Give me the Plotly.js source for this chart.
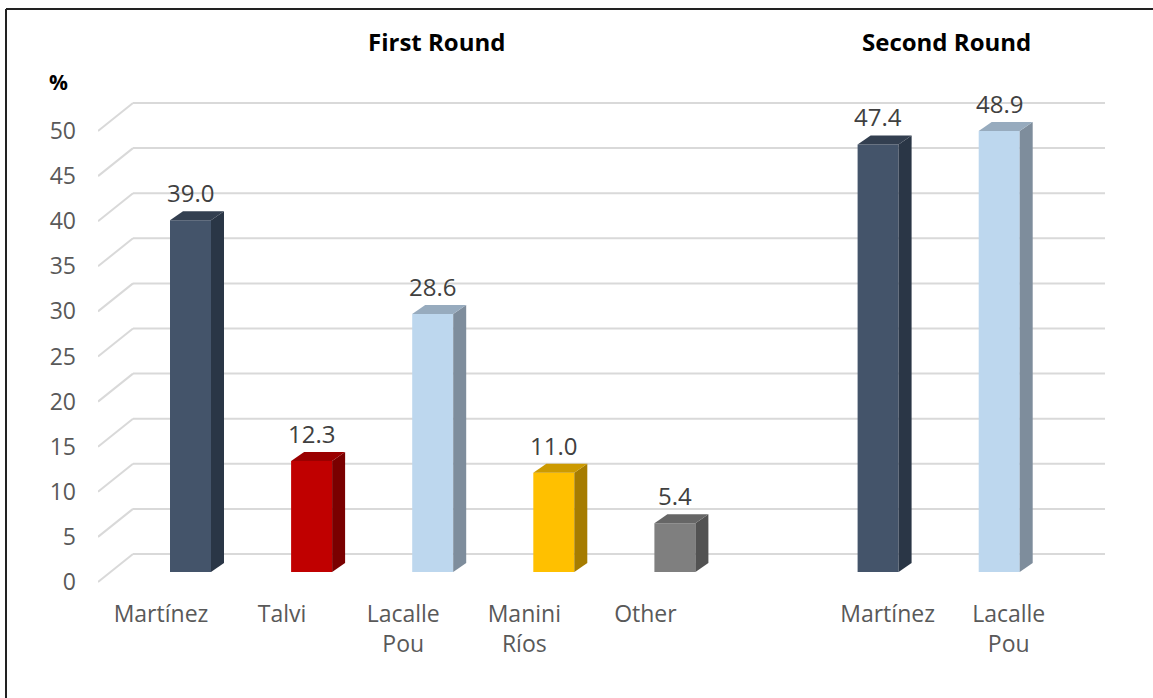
<!DOCTYPE html>
<html><head><meta charset="utf-8">
<script src="https://cdn.plot.ly/plotly-3.0.1.min.js"></script>
<style>html,body{margin:0;padding:0;background:#fff}#chart{width:1153px;height:698px}</style>
</head><body><div id="chart"></div>
<script>
// ---- data ----
const roundTitles = ['First Round', 'Second Round'];
const firstRoundCandidates = ['Martínez', 'Talvi', 'Lacalle<br>Pou', 'Manini<br>Ríos', 'Other'];
const firstRoundValues = [39.0, 12.3, 28.6, 11.0, 5.4];
const secondRoundCandidates = ['Martínez', 'Lacalle<br>Pou'];
const secondRoundValues = [47.4, 48.9];
const yTickValues = [0, 5, 10, 15, 20, 25, 30, 35, 40, 45, 50];
const yAxisUnit = '%';

// ---- styles ----
const palette = {
  'Martínez':      {front: '#44546A', side: '#2A3646', top: '#333F50'},
  'Talvi':         {front: '#C00000', side: '#7A0000', top: '#9A0000'},
  'Lacalle<br>Pou':{front: '#BDD7EE', side: '#7E8D9C', top: '#97ABBE'},
  'Manini<br>Ríos':{front: '#FFC000', side: '#A67C00', top: '#CC9A00'},
  'Other':         {front: '#7F7F7F', side: '#525252', top: '#666666'}
};
const FONT = 'Open Sans, Liberation Sans, Arial, sans-serif';
const W = 1153, H = 698;
const P = {l: 98, r: 1105, t: 90, b: 590};      // plot area in px
const X0 = 161, PX_X = 121.1;                   // category slot 0 centre, px per slot
const Y0 = 582, PX_Y = 9.02;                    // front-plane zero, px per unit
const xu = px => (px - X0) / PX_X;
const yu = py => (Y0 - py) / PX_Y;
const paperX = px => (px - P.l) / (P.r - P.l);
const paperY = py => (P.b - py) / (P.b - P.t);

const barBase = 10 / PX_Y;         // bar front sits 10px behind the front edge
const barW = 41 / PX_X;
const depthX = 13 / PX_X, depthY = 9 / PX_Y;   // bar depth
const wallX = 35, wallY = 28;                  // back wall offset px

// slots
const firstSlots = firstRoundCandidates.map((_, i) => i);
const secondSlots = secondRoundCandidates.map((_, j) => firstRoundCandidates.length + 1 + j);
const offsets = [(170 - 161) / PX_X, (858 - 888) / PX_X];

const groups = [
  {cats: firstRoundCandidates, vals: firstRoundValues, slots: firstSlots, off: offsets[0]},
  {cats: secondRoundCandidates, vals: secondRoundValues, slots: secondSlots, off: offsets[1]}
];

const traces = groups.map(g => ({
  type: 'bar',
  x: g.slots,
  y: g.vals,
  base: g.vals.map(() => barBase),
  offset: g.off,
  width: barW,
  marker: {color: g.cats.map(c => palette[c].front), line: {width: 0}},
  hoverinfo: 'skip',
  showlegend: false
}));

const shapes = [];
// walls grid
yTickValues.forEach(v => {
  const yb = v + wallY / PX_Y;
  shapes.push({type: 'line', layer: 'below', xref: 'x', yref: 'y',
    x0: xu(P.l + wallX), x1: xu(P.r), y0: yb, y1: yb,
    line: {color: '#D9D9D9', width: 2}});
  shapes.push({type: 'line', layer: 'below', xref: 'x', yref: 'y',
    x0: xu(P.l), x1: xu(P.l + wallX), y0: v, y1: yb,
    line: {color: '#D9D9D9', width: 2}});
});
// 3D faces
const annotations = [];
groups.forEach(g => {
  g.vals.forEach((v, i) => {
    const xl = g.slots[i] + g.off, xr = xl + barW;
    const b = barBase, t = barBase + v;
    const col = palette[g.cats[i]];
    shapes.push({type: 'path', layer: 'above', xref: 'x', yref: 'y',
      path: `M${xr},${b} L${xr + depthX},${b + depthY} L${xr + depthX},${t + depthY} L${xr},${t} Z`,
      fillcolor: col.side, line: {width: 0}});
    shapes.push({type: 'path', layer: 'above', xref: 'x', yref: 'y',
      path: `M${xl},${t} L${xl + depthX},${t + depthY} L${xr + depthX},${t + depthY} L${xr},${t} Z`,
      fillcolor: col.top, line: {width: 0}});
    annotations.push({xref: 'x', yref: 'y', x: (xl + xr) / 2, y: t + depthY,
      text: v.toFixed(1), showarrow: false, yanchor: 'bottom', xanchor: 'center', yshift: 0,
      font: {family: FONT, size: 24, color: '#404040'}});
  });
});
// border (top & left)
shapes.push({type: 'line', xref: 'paper', yref: 'paper', x0: paperX(6), x1: paperX(W + 5), y0: paperY(9), y1: paperY(9), line: {color: '#222', width: 2}});
shapes.push({type: 'line', xref: 'paper', yref: 'paper', x0: paperX(6), x1: paperX(6), y0: paperY(9), y1: paperY(H + 5), line: {color: '#222', width: 2}});

// titles
const titlePx = [436, 946];
roundTitles.forEach((t, k) => annotations.push({xref: 'paper', yref: 'paper',
  x: paperX(titlePx[k]), y: paperY(42), text: '<b>' + t + '</b>', showarrow: false,
  xanchor: 'center', yanchor: 'middle', font: {family: FONT, size: 24, color: '#000'}}));
annotations.push({xref: 'paper', yref: 'paper', x: paperX(58), y: paperY(82),
  text: '<b>' + yAxisUnit + '</b>', showarrow: false, xanchor: 'center', yanchor: 'middle',
  font: {family: FONT, size: 21, color: '#000'}});

const layout = {
  width: W, height: H,
  margin: {l: P.l, r: W - P.r, t: P.t, b: H - P.b, pad: 0},
  paper_bgcolor: '#fff', plot_bgcolor: '#fff',
  barmode: 'overlay',
  showlegend: false,
  xaxis: {range: [xu(P.l), xu(P.r)], tickmode: 'array',
    tickvals: firstSlots.concat(secondSlots),
    ticktext: firstRoundCandidates.concat(secondRoundCandidates),
    showgrid: false, zeroline: false, showline: false, ticks: '',
    ticklabelstandoff: 8,
    tickfont: {family: FONT, size: 23, color: '#595959'}, fixedrange: true},
  yaxis: {range: [yu(P.b), yu(P.t)], tickmode: 'array', tickvals: yTickValues,
    showgrid: false, zeroline: false, showline: false, ticks: '',
    ticklabelstandoff: 21,
    tickfont: {family: FONT, size: 23, color: '#595959'}, fixedrange: true},
  shapes: shapes,
  annotations: annotations
};
Plotly.newPlot('chart', traces, layout, {staticPlot: true, displayModeBar: false});
</script>
</body></html>
